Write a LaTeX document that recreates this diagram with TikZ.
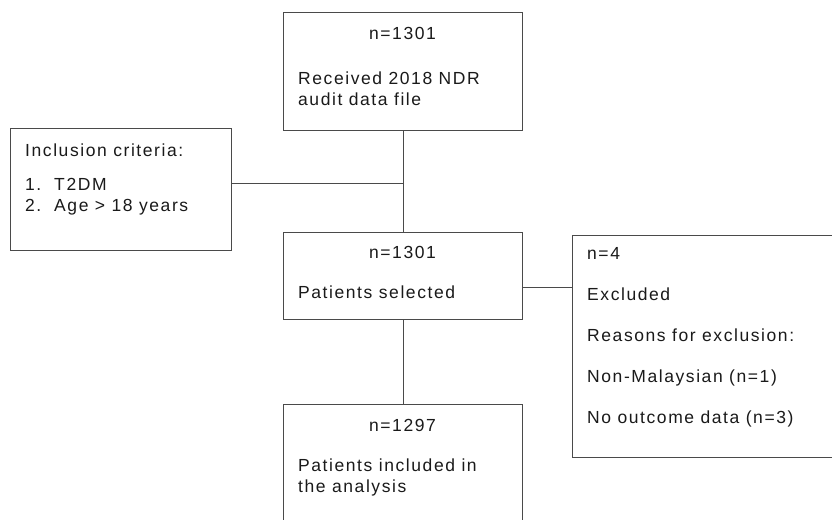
\documentclass[tikz,border=0pt]{standalone}
\usepackage{fontspec}
\setmainfont{Liberation Sans}[LetterSpace=9]
\usetikzlibrary{positioning}
\definecolor{edge}{HTML}{4A4A4A}
\definecolor{ink}{HTML}{1A1A1A}
\tikzset{
  box/.style={draw=edge, line width=1.1pt, fill=white, inner sep=0pt, anchor=north west},
  link/.style={draw=edge, line width=1.1pt},
  lab/.style={text=ink, font=\fontsize{17.5}{21}\selectfont, inner sep=0pt, anchor=west, align=left},
  labn/.style={lab, anchor=center},
}

\begin{document}
\begin{tikzpicture}[x=1pt,y=-1pt]
\clip (0,0) rectangle (832,519);
\fill[white] (0,0) rectangle (832,519);

% boxes
\node[box, minimum width=239pt, minimum height=118pt] (recv) at (283,12) {};
\node[box, minimum width=221pt, minimum height=122pt] (incl) at (10,128) {};
\node[box, minimum width=239pt, minimum height=87pt] (sel) at (283,232) {};
\node[box, minimum width=270pt, minimum height=222pt] (excl) at (572,235) {};
\node[box, minimum width=239pt, minimum height=130pt] (ana) at (283,404) {};

% connectors
\draw[link] (recv.south) -- (sel.north);
\draw[link] ([yshift=6pt]incl.east) -- ([yshift=6pt]incl.east -| recv.south);
\draw[link] ([yshift=-11pt]sel.east) -- ([yshift=-11pt]sel.east -| excl.west);
\draw[link] (sel.south) -- (ana.north);

% texts
\node[labn] (recvn) at (402.5,33) {n=1301};
\node[lab] (recvt) at (298,88.5) {Received 2018 NDR\\audit data file};
\node[lab] (inclh) at (25,150) {Inclusion criteria:};
\node[lab] (inclt) at (25,197) {1.~~T2DM\\2.~~Age > 18 years};
\node[labn] (seln) at (402.5,252) {n=1301};
\node[lab] (selt) at (298,292) {Patients selected};
\node[lab, font=\fontsize{17.5}{41}\selectfont] (exclt) at (587,337)
  {n=4\\Excluded\\Reasons for exclusion:\\Non-Malaysian (n=1)\\No outcome data (n=3)};
\node[labn] (anan) at (402.5,425) {n=1297};
\node[lab] (anat) at (298,477.5) {Patients included in\\the analysis};
\end{tikzpicture}
\end{document}
